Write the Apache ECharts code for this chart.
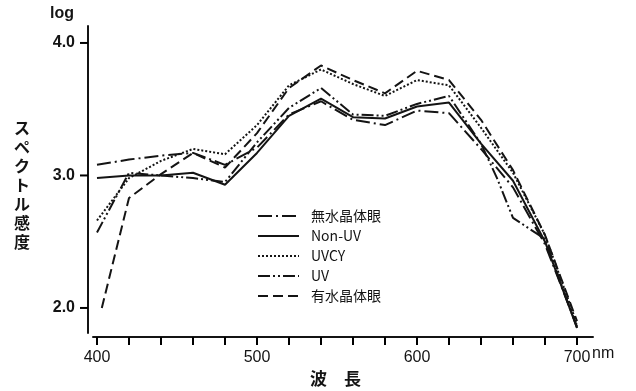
<!DOCTYPE html>
<html>
<head>
<meta charset="utf-8">
<script src="https://cdn.jsdelivr.net/npm/echarts@6/dist/echarts.min.js"></script>
<style>html,body{margin:0;padding:0;background:#fff}#c{width:636px;height:391px}</style>
</head>
<body>
<div id="c"></div>
<script>
// ---- data ----
const seriesNames = ['無水晶体眼', 'Non-UV', 'UVCY', 'UV', '有水晶体眼'];
const wl       = [400,420,440,460,480,500,520,540,560,580,600,620,640,660,680,700];
const wlUV     = [400,420,440,460,480,500,520,540,560,580,600,620,640,650,660,680,700];
const wlPhakic = [403,420,440,460,480,500,520,540,560,580,600,620,640,660,680,700];
const aphakic  = [3.08,3.12,3.15,3.17,3.08,3.21,3.46,3.56,3.42,3.38,3.49,3.47,3.20,2.91,2.48,1.86];
const nonUV    = [2.98,3.00,3.00,3.02,2.93,3.17,3.45,3.58,3.44,3.43,3.52,3.55,3.24,2.96,2.50,1.85];
const uvcy     = [2.66,2.98,3.11,3.20,3.16,3.38,3.68,3.80,3.69,3.60,3.72,3.68,3.36,3.02,2.55,1.88];
const uv       = [2.57,3.02,3.00,2.98,2.95,3.25,3.51,3.66,3.46,3.45,3.54,3.60,3.24,2.98,2.68,2.52,1.85];
const phakic   = [2.00,2.83,3.01,3.17,3.06,3.32,3.66,3.83,3.72,3.62,3.79,3.72,3.42,3.04,2.55,1.90];
const xTicks   = [400,420,440,460,480,500,520,540,560,580,600,620,640,660,680,700];
const xLabels  = [400,500,600,700];
const yTicks   = [2,3,4];

const X_MIN = 397.5, X_MAX = 710, Y_MIN = 1.811, Y_MAX = 4.128;
const pairs = (xs, ys) => xs.map((x, i) => [x, ys[i]]);
const ink = '#141414';
const latin = '"Liberation Sans", Arial, sans-serif';
const cjk = '"Noto Sans CJK JP", "Liberation Sans", sans-serif';

const styles = [
  [14,4,2,4],
  null,
  [2,2],
  [12,3,2,3,2,3],
  [10,5]
];
const dataSets = [pairs(wl, aphakic), pairs(wl, nonUV), pairs(wl, uvcy), pairs(wlUV, uv), pairs(wlPhakic, phakic)];

const lineSeries = seriesNames.map((n, i) => ({
  name: n, type: 'line', data: dataSets[i], symbol: 'none',
  lineStyle: {color: ink, width: 2, type: styles[i] || 'solid', cap: 'butt'},
  itemStyle: {color: ink}
}));

const textGraphics = [
  {id: 'log', type: 'text', left: 50, top: 6, style: {text: 'log', font: 'bold 16px ' + latin, fill: ink}},
  {id: 'ytitle', type: 'text', left: 14, top: 118, style: {text: 'ス\nペ\nク\nト\nル\n感\n度', font: 'bold 16px ' + cjk, lineHeight: 19, fill: ink, align: 'left'}},
  {id: 'nm', type: 'text', left: 592, top: 346, style: {text: 'nm', font: '16px ' + latin, fill: ink}},
  {id: 'xtitle', type: 'text', left: 310, top: 370, style: {text: '波　長', font: 'bold 17px ' + cjk, fill: ink}}
];

const chart = echarts.init(document.getElementById('c'), null, {renderer: 'canvas'});
chart.setOption({
  animation: false,
  backgroundColor: '#fff',
  grid: {left: 93, right: 43, top: 26, bottom: 58},
  xAxis: {
    type: 'value', min: X_MIN, max: X_MAX, offset: 4,
    splitLine: {show: false},
    axisLine: {lineStyle: {color: ink, width: 2}},
    axisTick: {show: false},
    axisLabel: {customValues: xLabels, margin: 13, color: ink, fontSize: 16, fontFamily: latin, fontWeight: 500}
  },
  yAxis: {
    type: 'value', min: Y_MIN, max: Y_MAX, offset: 5,
    splitLine: {show: false},
    axisLine: {show: true, lineStyle: {color: ink, width: 2}},
    axisTick: {show: false},
    axisLabel: {customValues: yTicks, margin: 13, color: ink, fontSize: 16, fontFamily: latin, fontWeight: 'bold',
      formatter: v => v.toFixed(1)}
  },
  legend: {
    orient: 'vertical', left: 257, top: 209, padding: 0,
    itemWidth: 41, itemHeight: 14, itemGap: 6,
    data: seriesNames,
    itemStyle: {opacity: 0},
    textStyle: {color: ink, fontSize: 14, fontFamily: cjk, padding: [0,0,0,7]}
  },
  series: lineSeries,
  graphic: textGraphics
});

// outward tick marks, positioned through the axis scales
const tickGraphics = [];
xTicks.forEach((v, i) => {
  const p = chart.convertToPixel({gridIndex: 0}, [v, Y_MIN]);
  tickGraphics.push({id: 'xt' + i, type: 'line', z: 100,
    shape: {x1: p[0], y1: p[1] + 4, x2: p[0], y2: p[1] + 12},
    style: {stroke: '#000', lineWidth: 2}});
});
yTicks.forEach((v, i) => {
  const p = chart.convertToPixel({gridIndex: 0}, [X_MIN, v]);
  tickGraphics.push({id: 'yt' + i, type: 'line', z: 100,
    shape: {x1: p[0] - 5, y1: p[1], x2: p[0] - 13, y2: p[1]},
    style: {stroke: '#000', lineWidth: 2}});
});
chart.setOption({graphic: textGraphics.concat(tickGraphics)});
</script>
</body>
</html>
